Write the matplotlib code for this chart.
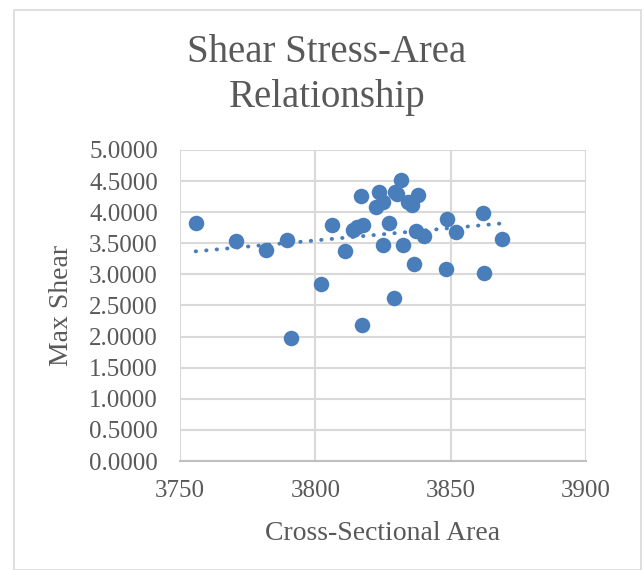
import numpy as np
import matplotlib
matplotlib.use("Agg")
import matplotlib.pyplot as plt
from matplotlib.patches import Rectangle

# Cross-sectional area vs max shear
area = [3755.8, 3770.7, 3781.9, 3789.4, 3791.1, 3802.2, 3806.0, 3811.1,
        3813.8, 3815.3, 3816.9, 3817.4, 3817.7, 3822.4, 3823.5, 3824.9,
        3825.1, 3827.2, 3829.1, 3829.4, 3830.0, 3831.5, 3832.5, 3834.3,
        3835.6, 3836.4, 3837.2, 3838.0, 3840.1, 3848.3, 3848.5, 3852.0,
        3861.8, 3862.3, 3869.0]
shear = [3.83, 3.53, 3.39, 3.56, 1.97, 2.85, 3.80, 3.38,
         3.71, 3.77, 4.26, 2.18, 3.79, 4.09, 4.32, 3.48,
         4.17, 3.82, 2.62, 4.33, 4.30, 4.51, 3.47, 4.17,
         4.12, 3.16, 3.70, 4.28, 3.62, 3.08, 3.89, 3.68,
         3.98, 3.03, 3.57]

title = "Shear Stress-Area\nRelationship"
xlabel = "Cross-Sectional Area"
ylabel = "Max Shear"

blue = "#4A7EBB"
grey_text = "#595959"
grid_col = "#D9D9D9"

plt.rcParams['font.family'] = ['Liberation Serif', 'DejaVu Serif']

fig = plt.figure(figsize=(6.44, 5.70), dpi=100)
fig.patches.append(Rectangle((14 / 644, 0), 627 / 644, 560 / 570,
                             transform=fig.transFigure, fill=False,
                             edgecolor="#D9D9D9", linewidth=1.2))

ax = fig.add_axes([180 / 644, 109 / 570, 406 / 644, 311 / 570])

ax.scatter(area, shear, s=125, color=blue, zorder=3, linewidths=0)

# linear trendline
k, b = np.polyfit(area, shear, 1)
xt = np.array([min(area), max(area)])
ax.plot(xt, k * xt + b, color=blue, linewidth=2.8,
        linestyle=(0, (0.1, 2.6)), dash_capstyle="round", zorder=2)

ax.set_xlim(3750, 3900)
ax.set_ylim(0, 5)
ax.set_xticks([3750, 3800, 3850, 3900])
ax.set_yticks(np.arange(0, 5.01, 0.5))
ax.yaxis.set_major_formatter(matplotlib.ticker.FormatStrFormatter("%.4f"))

ax.grid(True, color=grid_col, linewidth=1.5, zorder=0)
ax.set_axisbelow(True)
for s in ["top", "right", "left"]:
    ax.spines[s].set_visible(False)
ax.spines["bottom"].set_color("#BFBFBF")
ax.spines["bottom"].set_linewidth(1.5)

ax.tick_params(length=0, labelsize=18, labelcolor=grey_text)
ax.tick_params(axis="y", pad=16)
ax.tick_params(axis="x", pad=14)

ax.set_xlabel(xlabel, fontsize=20, color=grey_text, labelpad=13)
ax.set_ylabel(ylabel, fontsize=20, color=grey_text, labelpad=11)

fig.text(327 / 644, 1 - 75 / 570, title, ha="center", va="center",
         fontsize=28, color=grey_text, linespacing=1.3)

fig.savefig("out.png", dpi=100)
